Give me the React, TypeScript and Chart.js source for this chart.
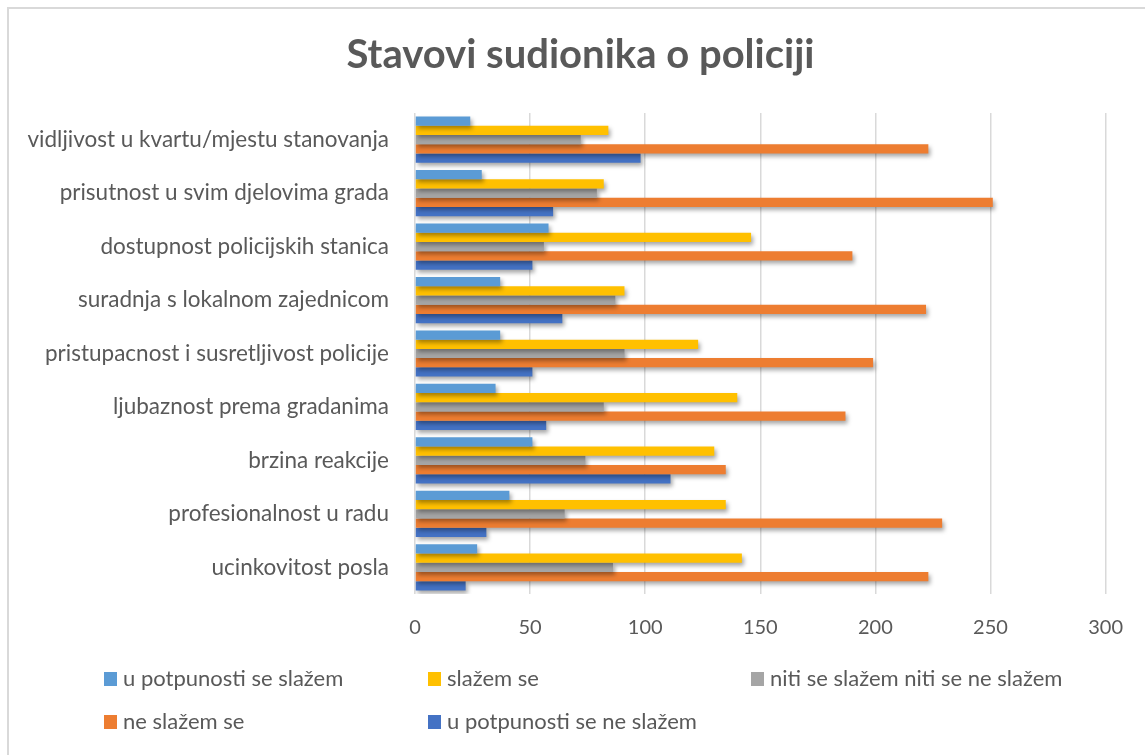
import React, { useEffect, useRef } from "react";
import { Chart, registerables } from "chart.js";

Chart.register(...registerables);

const categories = [
  "vidljivost u kvartu/mjestu stanovanja",
  "prisutnost u svim djelovima grada",
  "dostupnost policijskih stanica",
  "suradnja s lokalnom zajednicom",
  "pristupacnost i susretljivost policije",
  "ljubaznost prema gradanima",
  "brzina reakcije",
  "profesionalnost u radu",
  "ucinkovitost posla",
];

const seriesNames = [
  "u potpunosti se slažem",
  "slažem se",
  "niti se slažem niti se ne slažem",
  "ne slažem se",
  "u potpunosti se ne slažem",
];

const uPotpunostiSeSlazem = [24, 29, 58, 37, 37, 35, 51, 41, 27];
const slazemSe = [84, 82, 146, 91, 123, 140, 130, 135, 142];
const nitiNiti = [72, 79, 56, 87, 91, 82, 74, 65, 86];
const neSlazemSe = [223, 251, 190, 222, 199, 187, 135, 229, 223];
const uPotpunostiSeNeSlazem = [98, 60, 51, 64, 51, 57, 111, 31, 22];

const seriesValues = [uPotpunostiSeSlazem, slazemSe, nitiNiti, neSlazemSe, uPotpunostiSeNeSlazem];
const seriesColors = ["#5B9BD5", "#FFC000", "#A5A5A5", "#ED7D31", "#4472C4"];

const xTickValues = [0, 50, 100, 150, 200, 250, 300];

const TITLE = "Stavovi sudionika o policiji";
const TEXT = "#595959";
const FONT = "Lato, 'Noto Sans', sans-serif";

const shadowPlugin = {
  id: "barShadow",
  beforeDatasetsDraw(chart: any) {
    const ctx = chart.ctx;
    ctx.save();
    ctx.shadowColor = "rgba(0,0,0,0.35)";
    ctx.shadowBlur = 4;
    ctx.shadowOffsetX = 2;
    ctx.shadowOffsetY = 3;
  },
  afterDatasetsDraw(chart: any) {
    chart.ctx.restore();
  },
};

const titlePlugin = {
  id: "excelTitle",
  afterDraw(chart: any) {
    const ctx = chart.ctx;
    ctx.save();
    ctx.font = `bold 40px ${FONT}`;
    ctx.fillStyle = TEXT;
    ctx.textAlign = "center";
    ctx.textBaseline = "middle";
    ctx.fillText(TITLE, 571.5, 46);
    ctx.restore();
  },
};

const legendCols = [95, 419, 742];
const legendRows = [670, 713];

const gridLegendPlugin = {
  id: "gridLegend",
  afterDraw(chart: any) {
    const ctx = chart.ctx;
    ctx.save();
    ctx.font = `22px ${FONT}`;
    ctx.textBaseline = "middle";
    ctx.textAlign = "left";
    chart.data.datasets.forEach((ds: any, i: number) => {
      const col = i < 3 ? i : i - 3;
      const row = i < 3 ? 0 : 1;
      const x = legendCols[col];
      const y = legendRows[row];
      ctx.fillStyle = ds.backgroundColor;
      ctx.fillRect(x, y - 7, 13, 14);
      ctx.fillStyle = TEXT;
      ctx.fillText(ds.label, x + 19, y);
    });
    ctx.restore();
  },
};

export default function App() {
  const canvasRef = useRef<HTMLCanvasElement | null>(null);

  useEffect(() => {
    if (!canvasRef.current) return;
    const chart = new Chart(canvasRef.current, {
      type: "bar",
      data: {
        labels: categories,
        datasets: seriesNames.map((name, i) => ({
          label: name,
          data: seriesValues[i],
          backgroundColor: seriesColors[i],
          borderWidth: 0,
          categoryPercentage: 0.865,
          barPercentage: 1.0,
        })),
      },
      options: {
        indexAxis: "y",
        animation: false,
        responsive: false,
        maintainAspectRatio: false,
        layout: { padding: { left: 0, right: 38, top: 104, bottom: 0 } },
        plugins: {
          legend: { display: false },
          tooltip: { enabled: false },
          title: { display: false },
        },
        scales: {
          x: {
            min: 0,
            max: 300,
            afterBuildTicks(scale: any) {
              scale.ticks = xTickValues.map((v) => ({ value: v }));
            },
            afterFit(scale: any) {
              scale.height = 161;
            },
            grid: { color: "#d9d9d9", lineWidth: 1.5, drawTicks: false },
            border: { display: false },
            ticks: {
              color: TEXT,
              padding: 22,
              font: { family: FONT, size: 20 },
            },
          },
          y: {
            afterFit(scale: any) {
              scale.width = 406;
            },
            grid: { display: false, drawTicks: false },
            border: { display: false },
            ticks: {
              color: TEXT,
              padding: 26,
              font: { family: FONT, size: 22.5 },
            },
          },
        },
      },
      plugins: [shadowPlugin, titlePlugin, gridLegendPlugin],
    });
    return () => chart.destroy();
  }, []);

  return (
    <div
      style={{
        position: "fixed",
        left: 7,
        top: 7,
        width: 1138,
        height: 748,
        borderTop: "2px solid #d9d9d9",
        borderLeft: "2px solid #d9d9d9",
        background: "#fff",
        boxSizing: "border-box",
      }}
    >
      <canvas ref={canvasRef} width={1136} height={746} style={{ display: "block" }} />
    </div>
  );
}
